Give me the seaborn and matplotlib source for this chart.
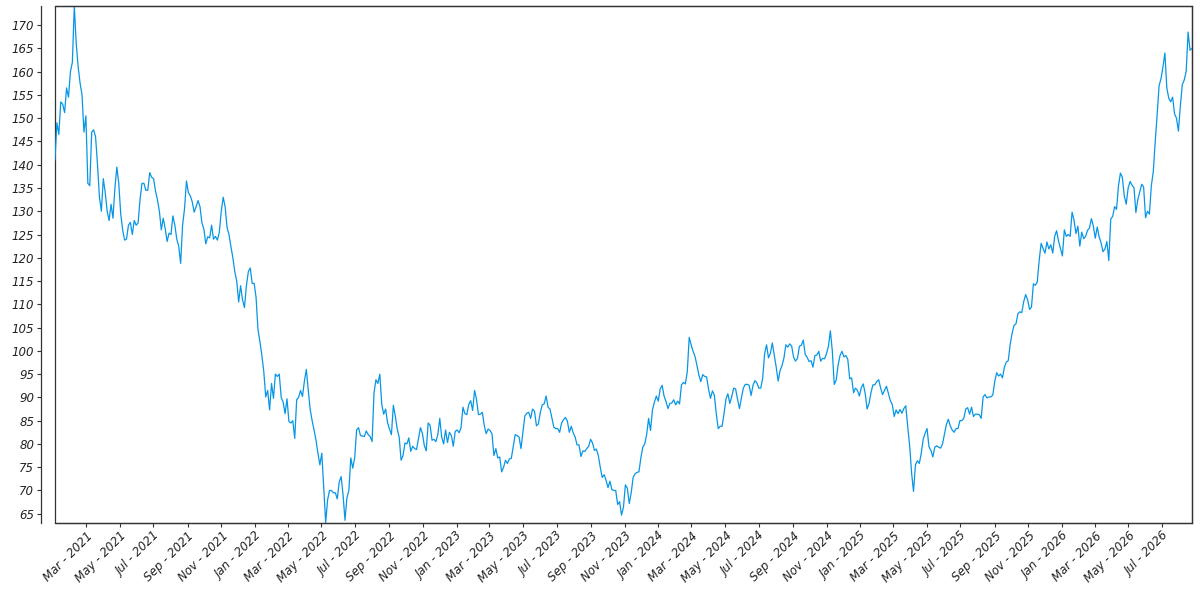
import numpy as np
import pandas as pd
import seaborn as sns
import matplotlib.pyplot as plt
import matplotlib.dates as mdates
from matplotlib.ticker import MultipleLocator

# closes every half week, starting Mon 4 Jan 2021
start_date = "2021-01-04"
step = "84h"

prices_2021 = [141, 149, 146.5, 153.5, 153, 151.2, 156.5, 154.5, 160, 162,
               174.1, 166, 161, 157.5, 155, 147, 150.5, 136, 135.5, 147,
               147.5, 146, 140, 133, 130, 137, 134, 130, 128, 131.5,
               128.5, 135, 139.5, 136, 129.5, 126, 123.8, 124, 127, 127.6,
               125, 128, 127, 127.5, 132.5, 136, 136, 134.5, 134.5, 138.3,
               137.3, 137, 134.3, 132.5, 130, 126, 128.5, 126.3, 123.5, 125.3,
               125, 129, 127, 124, 122.5, 118.8, 127, 130.5, 136.5, 134,
               133.3, 132, 129.8, 131, 132.3, 131, 127.5, 126.2, 123, 124.5,
               124.3, 127, 124, 124.6, 123.8, 125.5, 130, 133, 131, 126.5,
               125, 122.4, 120, 117, 115, 110.5, 114, 111, 109.3, 114,
               117, 117.8, 114.5, 114.5]
prices_2022 = [111.5, 104.5, 102, 99, 95.5, 90.1, 91.5, 87.3, 93, 89.8,
               95, 94.5, 95, 90, 89, 86.5, 89.7, 84.8, 84.5, 85,
               81.2, 89.5, 90, 91.5, 90.2, 93.5, 96, 91.5, 87.4, 85,
               83, 80.8, 78, 75.5, 78, 70.5, 63.1, 68, 70, 70,
               69.5, 69.5, 68.2, 71.8, 73, 69, 63.6, 68.5, 70, 77,
               74.8, 77, 83, 83.5, 81.8, 81.7, 81.6, 82.8, 82, 81.6,
               80.5, 91, 93.8, 93, 95, 88.5, 86.4, 87.5, 84.6, 83.2,
               82, 88.3, 86, 83.2, 81.5, 76.5, 77.5, 80.2, 80, 81.3,
               78.4, 79.5, 79, 78.8, 81.2, 83.5, 82.3, 79.7, 78.5, 84.5,
               84, 80.8, 81, 80.5, 82, 85.5, 81.5, 80, 83, 80.3,
               82.5, 81.8, 79.5, 82.7]
prices_2023 = [83, 82.4, 83.5, 87.9, 86.5, 86.3, 88.5, 89.3, 87.2, 91.5,
               89.6, 86.3, 86.4, 86.8, 84, 82.2, 83.2, 82.9, 82.2, 77.5,
               79, 77, 77.2, 74, 75, 76.5, 75.8, 76.8, 76.9, 79.5,
               82, 81.8, 81.5, 79, 82.5, 86, 86.6, 86.8, 85.5, 87.5,
               87, 83.9, 84.3, 86.8, 88.4, 88.6, 90.3, 87.9, 87.5, 85.5,
               83.6, 83.3, 83.3, 82.5, 84.5, 85.2, 85.7, 84.9, 82.5, 83.8,
               82.4, 81.5, 79.8, 79.8, 77.3, 78.5, 78.4, 79, 79.5, 81,
               80.2, 78.6, 78.9, 77.5, 75, 72.8, 73.4, 72.2, 70.6, 72,
               70.2, 70, 70, 67, 67.6, 64.7, 66.4, 71.2, 70.5, 67.2,
               69.5, 72.8, 73.6, 73.9, 74, 77, 79.3, 80, 82, 85.5,
               82.9, 87.3, 89, 90.3]
prices_2024 = [89.2, 91.8, 92.6, 90.3, 89.1, 87.6, 88.7, 88.8, 89.5, 88.4,
               89.2, 88.6, 92.7, 93.2, 92.9, 95.5, 102.9, 101.3, 99.9, 98.8,
               96.9, 94.8, 93.4, 94.9, 94.5, 94.4, 91.8, 89.8, 91.4, 90.5,
               86.5, 83.3, 83.8, 83.8, 86.5, 89.6, 90.8, 88.7, 90.2, 92,
               91.8, 89.6, 87.6, 89.9, 92, 92.8, 92.8, 92.6, 90.4, 92.6,
               93.6, 93.1, 92, 92, 94.1, 99.4, 101.3, 98.5, 99.5, 101.7,
               99, 96.5, 93.5, 95.8, 96.8, 98.5, 101.3, 100.8, 101.5, 101,
               98.6, 97.8, 98.4, 101, 101.2, 102.3, 99.2, 98.6, 97.7, 97.9,
               96.5, 99, 99.1, 99.9, 97.8, 98.4, 98.3, 99.4, 101, 104.3,
               100, 92.8, 93.7, 96.9, 99, 99.9, 98.7, 99, 98.2, 94,
               94.2, 91, 92, 91.5, 90.3]
prices_2025 = [92.1, 92.9, 90.9, 87.5, 88.7, 91, 92.7, 92.7, 93.4, 93.8,
               92, 90.6, 91.5, 92.4, 90.9, 89.3, 88.5, 85.9, 87.3, 86.5,
               87.4, 86.6, 87.6, 88.2, 83.7, 79.7, 73.8, 69.8, 75.5, 76.4,
               75.8, 78, 81, 82.3, 83.3, 79.4, 78.6, 77.2, 79.3, 79.6,
               79.3, 79.1, 80, 82.1, 84.2, 85.3, 83.9, 83, 82.5, 83.3,
               83.3, 85, 85, 85.5, 87.5, 87.8, 86.4, 87.9, 85.9, 86.4,
               86.4, 86.3, 85.5, 90.1, 90.6, 89.9, 90.1, 90.1, 90.5, 93.4,
               95.3, 94.6, 95, 94.2, 96.5, 97.6, 97.9, 101.4, 103.8, 105.5,
               105.8, 108, 108.4, 108.2, 110.6, 112.1, 111, 108.9, 109.4, 114.4,
               114.1, 114.8, 119.5, 123.1, 122, 121, 123.4, 121.9, 122.8, 121,
               124.6, 125.8, 123.6, 122]
prices_2026 = [120.4, 126, 124.6, 125, 124.6, 129.8, 128.1, 125.2, 126.8, 122.5,
               125.5, 124.1, 124.6, 125.9, 126.4, 128.4, 126.8, 124.2, 126.6, 124.5,
               123.2, 121.3, 121.9, 123.5, 119.4, 128.3, 128.9, 131, 130.4, 135.5,
               138.2, 137.3, 133.3, 131.5, 135, 136.4, 135.6, 135.1, 129.7, 132.5,
               134.2, 135.8, 135.2, 128.6, 130, 129.4, 135.5, 138.5, 145, 150.8,
               157, 158.5, 161, 164, 156.5, 154.3, 153.5, 154.5, 150.9, 150,
               147.2, 152.6, 157.2, 158.2, 160, 168.5, 164.6, 165]

values = np.array(prices_2021 + prices_2022 + prices_2023 +
                  prices_2024 + prices_2025 + prices_2026)
dates = pd.date_range(start_date, periods=len(values), freq=step)
df = pd.DataFrame({"date": dates, "price": values})

sns.set_style("ticks")
plt.rcParams["font.family"] = ["DejaVu Sans"]
plt.rcParams["font.style"] = "italic"

fig = plt.figure(figsize=(12, 6), dpi=100)
ax = fig.add_axes([0.0458, 0.129, 0.9475, 0.861])

sns.lineplot(data=df, x="date", y="price", color="#0796e6", linewidth=0.9, ax=ax)

ax.set_xlim(df["date"].min(), df["date"].max())
ax.set_ylim(df["price"].min(), df["price"].max())

ax.xaxis.set_major_locator(mdates.MonthLocator(bymonth=[1, 3, 5, 7, 9, 11]))
ax.xaxis.set_major_formatter(mdates.DateFormatter("%b - %Y"))
ax.yaxis.set_major_locator(MultipleLocator(5))
ax.set_xlabel("")
ax.set_ylabel("")

# frame around the plot, y axis pushed out to the left
edge = "#333333"
sns.despine(ax=ax, top=False, right=False, offset={"left": 10})
for side in ["top", "right", "bottom", "left"]:
    ax.spines[side].set_color(edge)
    ax.spines[side].set_linewidth(0.9)
ax.patch.set_edgecolor(edge)
ax.patch.set_linewidth(0.9)

ax.tick_params(axis="both", labelsize=8.5, length=3, width=0.8,
               color=edge, labelcolor="#222222", pad=2)
for lab in ax.get_xticklabels():
    lab.set_rotation(45)
    lab.set_ha("right")
    lab.set_rotation_mode("anchor")
for lab in ax.get_xticklabels() + ax.get_yticklabels():
    lab.set_fontstyle("italic")

fig.savefig("out.png", dpi=100)
